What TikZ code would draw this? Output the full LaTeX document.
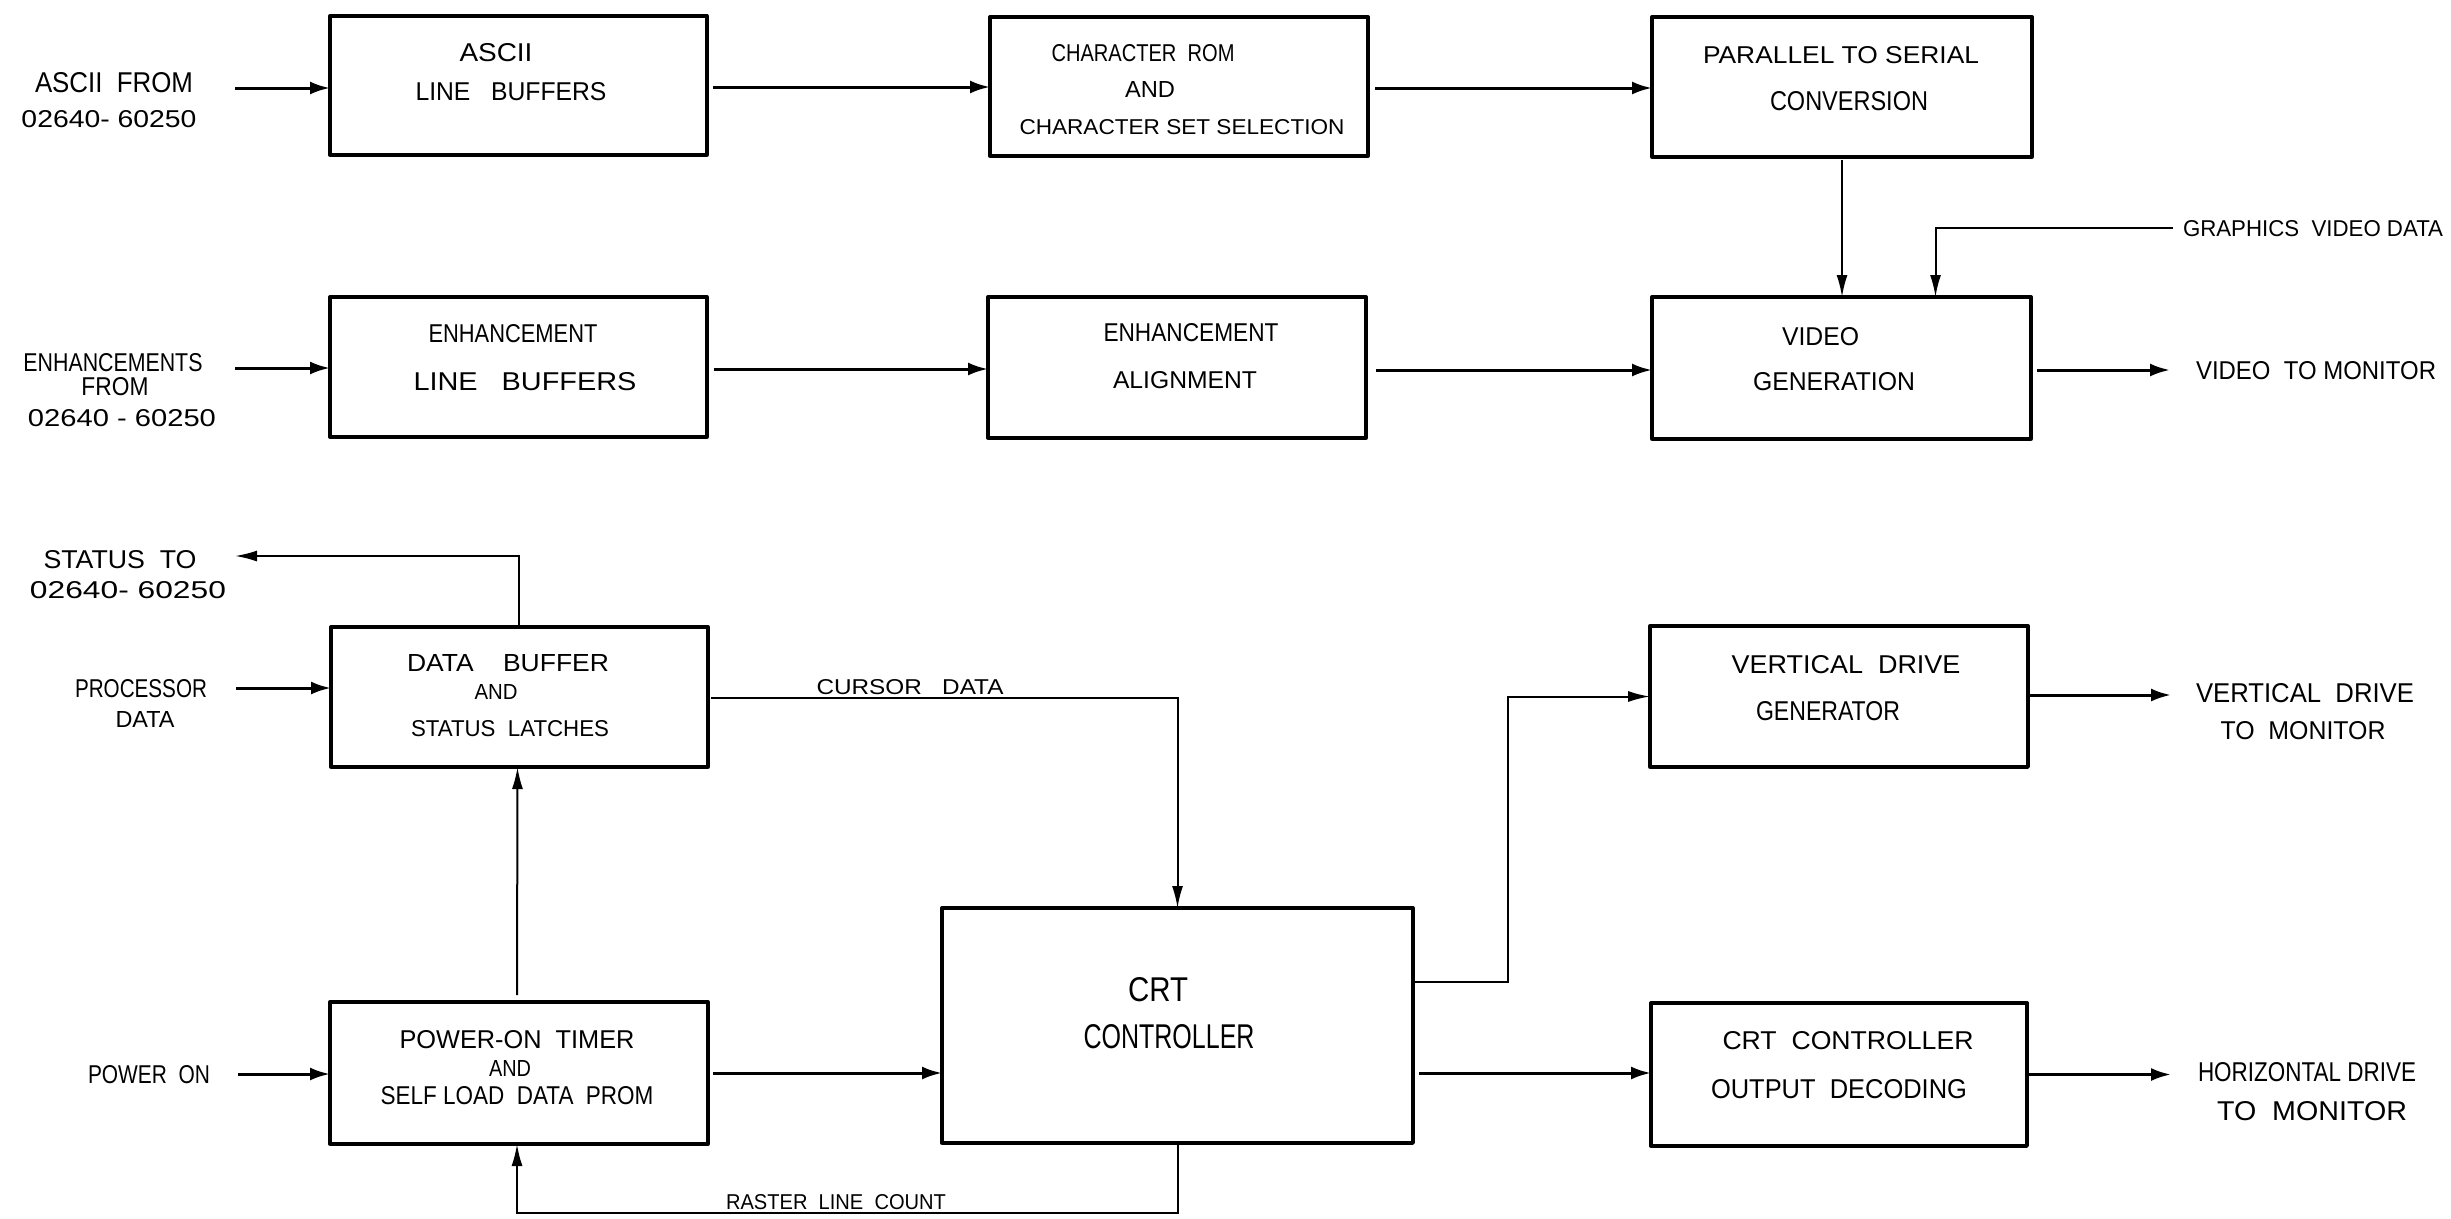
\documentclass[tikz,border=0pt]{standalone}
\usepackage{fontspec}
\usepackage{graphicx}
\setmainfont{Liberation Sans}
\usetikzlibrary{arrows.meta}
% \hw{width}{height}{text}: a line of lettering fitted to a measured size
\newcommand{\hw}[3]{\resizebox{#1pt}{#2pt}{\fontsize{24}{24}\selectfont #3}}
\tikzset{
  blk/.style={draw=black,line width=3.3pt,fill=none,inner sep=0pt,outer sep=0pt,line join=round},
  lbl/.style={inner sep=0pt,outer sep=0pt,anchor=center,text=black},
  arr/.style={draw=black,line width=3pt,-{Latex[length=20pt,width=13pt]}},
  arrthin/.style={draw=black,line width=2pt,-{Latex[length=22pt,width=11pt]}}
}
\begin{document}
\begin{tikzpicture}[x=1pt,y=-1pt]
\useasboundingbox[fill=white] (0,0) rectangle (2451,1218);
% blocks
\node[blk,minimum width=377pt,minimum height=139pt] (b1) at (518.5,85.5) {};
\node[blk,minimum width=378pt,minimum height=139pt] (b2) at (1179,86.5) {};
\node[blk,minimum width=380pt,minimum height=140pt] (b3) at (1842,87) {};
\node[blk,minimum width=377pt,minimum height=140pt] (b4) at (518.5,367) {};
\node[blk,minimum width=378pt,minimum height=141pt] (b5) at (1177,367.5) {};
\node[blk,minimum width=379pt,minimum height=142pt] (b6) at (1841.5,368) {};
\node[blk,minimum width=377pt,minimum height=140pt] (b7) at (519.5,697) {};
\node[blk,minimum width=378pt,minimum height=142pt] (b8) at (519,1073) {};
\node[blk,minimum width=471pt,minimum height=235pt] (b9) at (1177.5,1025.5) {};
\node[blk,minimum width=378pt,minimum height=141pt] (b10) at (1839,696.5) {};
\node[blk,minimum width=376pt,minimum height=143pt] (b11) at (1839,1074.5) {};
% free ends
\coordinate (asciiin) at (235,88);
\coordinate (enhin) at (235,368);
\coordinate (st) at (235,556);
\coordinate (procin) at (236,688);
\coordinate (pwrin) at (238,1074);
\coordinate (gfx) at (2173,228);
\coordinate (vidout) at (2170,370);
\coordinate (vdout) at (2171,695);
\coordinate (hdout) at (2171,1074.5);
% lettering in blocks
\node[lbl] (t1a) at (496,53) {\hw{73}{18}{ASCII}};
\node[lbl] (t1b) at (511,92) {\hw{191}{18}{LINE\ \ \ BUFFERS}};
\node[lbl] (t2a) at (1143,53) {\hw{183}{17}{CHARACTER\ \ ROM}};
\node[lbl] (t2b) at (1150,89) {\hw{50}{16}{AND}};
\node[lbl] (t2c) at (1182,127) {\hw{325}{15}{CHARACTER SET SELECTION}};
\node[lbl] (t3a) at (1841,55) {\hw{276}{17}{PARALLEL TO SERIAL}};
\node[lbl] (t3b) at (1849,101) {\hw{158}{19}{CONVERSION}};
\node[lbl] (t4a) at (513,334) {\hw{169}{18}{ENHANCEMENT}};
\node[lbl] (t4b) at (525,382) {\hw{223}{18}{LINE\ \ \ BUFFERS}};
\node[lbl] (t5a) at (1191,333) {\hw{175}{18}{ENHANCEMENT}};
\node[lbl] (t5b) at (1185,380) {\hw{144}{17}{ALIGNMENT}};
\node[lbl] (t6a) at (1820.5,337) {\hw{77}{18}{VIDEO}};
\node[lbl] (t6b) at (1834,382) {\hw{162}{18}{GENERATION}};
\node[lbl] (t7a) at (508,663) {\hw{202}{17}{DATA\ \ \ \ BUFFER}};
\node[lbl] (t7b) at (496,692) {\hw{43}{15}{AND}};
\node[lbl] (t7c) at (510,729) {\hw{198}{16}{STATUS\ \ LATCHES}};
\node[lbl] (t8a) at (517,1040) {\hw{235}{18}{POWER-ON\ \ TIMER}};
\node[lbl] (t8b) at (510,1068) {\hw{42}{16}{AND}};
\node[lbl] (t8c) at (517,1096) {\hw{273}{18}{SELF LOAD\ \ DATA\ \ PROM}};
\node[lbl] (t9a) at (1158,990) {\hw{60}{24}{CRT}};
\node[lbl] (t9b) at (1169,1037) {\hw{171}{24}{CONTROLLER}};
\node[lbl] (t10a) at (1846,665) {\hw{229}{18}{VERTICAL\ \ DRIVE}};
\node[lbl] (t10b) at (1828,711) {\hw{144}{19}{GENERATOR}};
\node[lbl] (t11a) at (1848,1041) {\hw{251}{18}{CRT\ \ CONTROLLER}};
\node[lbl] (t11b) at (1839,1089) {\hw{256}{19}{OUTPUT\ \ DECODING}};
% lettering outside blocks
\node[lbl] (l1a) at (114,83) {\hw{158}{20}{ASCII\ \ FROM}};
\node[lbl] (l1b) at (109,119) {\hw{175}{17}{02640- 60250}};
\node[lbl] (l2a) at (113,363) {\hw{179}{18}{ENHANCEMENTS}};
\node[lbl] (l2b) at (115,387) {\hw{67}{18}{FROM}};
\node[lbl] (l2c) at (122,418) {\hw{188}{17}{02640 - 60250}};
\node[lbl] (l3a) at (120,560) {\hw{153}{18}{STATUS\ \ TO}};
\node[lbl] (l3b) at (128,590) {\hw{196}{17}{02640- 60250}};
\node[lbl] (l4a) at (141,689) {\hw{132}{18}{PROCESSOR}};
\node[lbl] (l4b) at (145,719) {\hw{59}{16}{DATA}};
\node[lbl] (l5) at (149,1075) {\hw{122}{18}{POWER\ \ ON}};
\node[lbl] (l6) at (2313,229) {\hw{260}{16}{GRAPHICS\ \ VIDEO DATA}};
\node[lbl] (l7) at (2316,371) {\hw{240}{18}{VIDEO\ \ TO MONITOR}};
\node[lbl] (l8a) at (2305,693) {\hw{218}{19}{VERTICAL\ \ DRIVE}};
\node[lbl] (l8b) at (2303,731) {\hw{165}{18}{TO\ \ MONITOR}};
\node[lbl] (l9a) at (2307,1072) {\hw{218}{19}{HORIZONTAL DRIVE}};
\node[lbl] (l9b) at (2312,1111) {\hw{190}{19}{TO\ \ MONITOR}};
\node[lbl] (l10) at (910,687) {\hw{187}{15}{CURSOR\ \ \ DATA}};
\node[lbl] (l11) at (836,1202) {\hw{220}{15}{RASTER\ \ LINE\ \ COUNT}};
% connectors
\draw[arr] (asciiin) -- ([yshift=-2.5pt]b1.west);
\draw[arr] ([xshift=6pt,yshift=-1.5pt]b1.east) -- ([yshift=-.5pt]b2.west);
\draw[arr] ([xshift=7pt,yshift=-1.5pt]b2.east) -- ([yshift=-1pt]b3.west);
\draw[arr] (enhin) -- ([yshift=-1pt]b4.west);
\draw[arr] ([xshift=7pt,yshift=-2pt]b4.east) -- ([yshift=-1.5pt]b5.west);
\draw[arr] ([xshift=10pt,yshift=-2.5pt]b5.east) -- ([yshift=-2pt]b6.west);
\draw[arr] ([xshift=6pt,yshift=-2pt]b6.east) -- (vidout);
\draw[arrthin] ([yshift=-3pt]b3.south) -- ([xshift=.5pt]b6.north);
\draw[arrthin] (gfx) -| ([xshift=94pt]b6.north);
\draw[arrthin] ([xshift=-1pt]b7.north) |- (st);
\draw[arr] (procin) -- ([yshift=9pt]b7.west);
\draw[arr] (pwrin) -- ([yshift=-1pt]b8.west);
\draw[arrthin] ([xshift=-2pt,yshift=7pt]b8.north) -- ([xshift=-2pt]b7.south);
\draw[arr] ([xshift=5pt]b8.east) -- ([yshift=-47.5pt]b9.west);
\draw[arrthin] (b9.south) -- ++(0,70) -| ([xshift=-2pt]b8.south);
\draw[arrthin] ([xshift=3pt,yshift=-1pt]b7.east) -| (b9.north);
\draw[arrthin] ([xshift=2pt,yshift=44pt]b9.east) -- ++(93,0) |- (b10.west);
\draw[arr] ([xshift=6pt,yshift=-47.5pt]b9.east) -- ([yshift=1.5pt]b11.west);
\draw[arr] ([yshift=1.5pt]b10.east) -- (vdout);
\draw[arr] (b11.east) -- (hdout);
\end{tikzpicture}
\end{document}
